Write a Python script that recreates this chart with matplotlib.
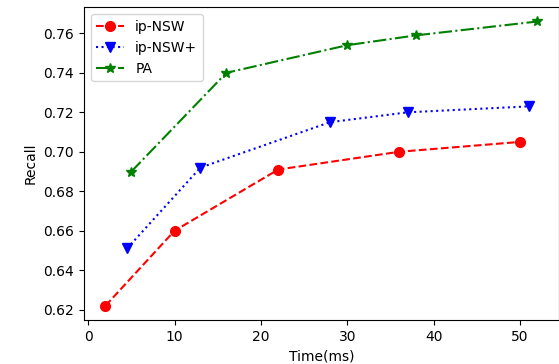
import matplotlib
matplotlib.use("Agg")
import matplotlib.pyplot as plt

# time (ms) and recall for each method
ipnsw_time = [2, 10, 22, 36, 50]
ipnsw_recall = [0.622, 0.660, 0.691, 0.700, 0.705]

ipnsw_plus_time = [4.5, 13, 28, 37, 51]
ipnsw_plus_recall = [0.651, 0.692, 0.715, 0.720, 0.723]

pa_time = [5, 16, 30, 38, 52]
pa_recall = [0.690, 0.740, 0.754, 0.759, 0.766]

fig = plt.figure(figsize=(5.59, 3.64), dpi=100)
ax = fig.add_axes([0.150, 0.121, 0.850, 0.859])

ax.plot(ipnsw_time, ipnsw_recall, 'r--o', label='ip-NSW', markersize=7)
ax.plot(ipnsw_plus_time, ipnsw_plus_recall, 'b:v', label='ip-NSW+', markersize=7)
ax.plot(pa_time, pa_recall, 'g-.*', label='PA', markersize=7)

ax.set_xlabel('Time(ms)')
ax.set_ylabel('Recall')
ax.legend(loc='upper left')

fig.savefig("out.png", dpi=100)
